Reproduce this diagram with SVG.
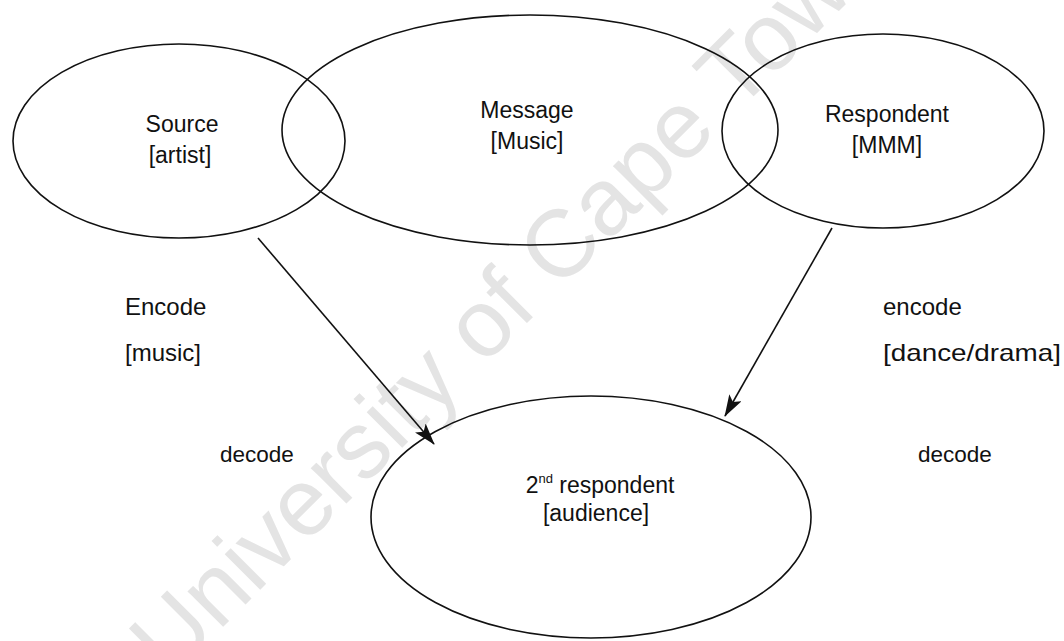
<svg xmlns="http://www.w3.org/2000/svg" width="1064" height="641" viewBox="0 0 1064 641">
  <style>
    .shape { fill: none; stroke: #111; stroke-width: 1.6; }
    .label { font-family: "Liberation Sans", Arial, sans-serif; font-size: 23px; fill: #111; }
    .mid { text-anchor: middle; }
    .side { font-size: 24px; }
    .small { font-size: 22.5px; }
    .sup { font-size: 13px; }
    .mark { font-family: "Liberation Sans", Arial, sans-serif; font-size: 95px; fill: #e4e4e4; }
    .wire { stroke: #111; stroke-width: 1.6; fill: none; marker-end: url(#head); }
  </style>
  <defs>
    <marker id="head" viewBox="0 0 22 14" refX="21" refY="7" markerWidth="22" markerHeight="14" markerUnits="userSpaceOnUse" orient="auto">
      <path d="M0,0 L22,7 L0,14 L5,7 Z" fill="#111"/>
    </marker>
  </defs>
  <rect width="1064" height="641" fill="#ffffff"/>

  <!-- faint background watermark -->
  <text class="mark" transform="translate(170,680) rotate(-45)">University of Cape Town</text>

  <g id="source">
    <ellipse class="shape" cx="179" cy="141" rx="166" ry="97"/>
    <text class="label mid" x="182" y="132">Source</text>
    <text class="label mid" x="180" y="163">[artist]</text>
  </g>

  <g id="message">
    <ellipse class="shape" cx="530" cy="130" rx="248" ry="115"/>
    <text class="label mid" x="527" y="118">Message</text>
    <text class="label mid" x="527" y="149">[Music]</text>
  </g>

  <g id="respondent">
    <ellipse class="shape" cx="883" cy="131" rx="161" ry="97"/>
    <text class="label mid" x="887" y="122">Respondent</text>
    <text class="label mid" x="887" y="153">[MMM]</text>
  </g>

  <g id="audience">
    <ellipse class="shape" cx="591" cy="517" rx="220" ry="121"/>
    <text class="label mid" x="600" y="493">2<tspan class="sup" dy="-10">nd</tspan><tspan dy="10"> respondent</tspan></text>
    <text class="label mid" x="596" y="521">[audience]</text>
  </g>

  <g id="connectors">
    <line class="wire" x1="258" y1="238" x2="434" y2="444"/>
    <line class="wire" x1="832" y1="228" x2="725" y2="416"/>
  </g>

  <g id="labels">
    <text class="label side" x="125" y="315">Encode</text>
    <text class="label side" x="125" y="361">[music]</text>
    <text class="label small" x="220" y="462">decode</text>
    <text class="label side" x="883" y="315">encode</text>
    <text class="label side" x="883" y="361" textLength="178" lengthAdjust="spacingAndGlyphs">[dance/drama]</text>
    <text class="label small" x="918" y="462">decode</text>
  </g>
</svg>
